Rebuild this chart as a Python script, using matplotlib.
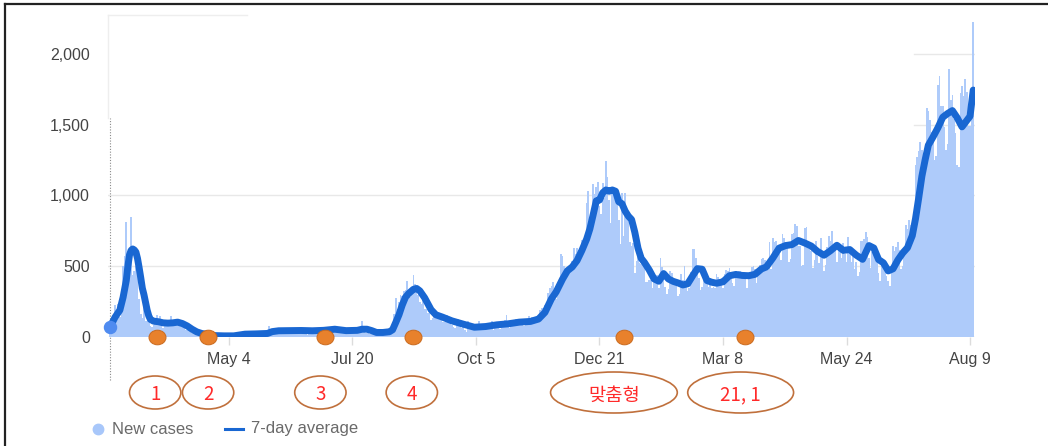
import pandas as pd
import matplotlib
matplotlib.use('Agg')
import matplotlib.pyplot as plt
import matplotlib.dates as mdates
import matplotlib.transforms as mtransforms
from matplotlib.patches import Ellipse
from matplotlib.path import Path
from matplotlib.lines import Line2D
from matplotlib.ticker import FuncFormatter

plt.rcParams['font.family'] = ['Liberation Sans', 'Noto Sans CJK KR']

# daily new cases, one list per month (first value is 2020-02-20)
cases_2020_02 = [20, 53, 100, 229, 169, 231, 144, 284, 505, 571]
cases_2020_03 = [813, 586, 599, 851, 435, 467, 505, 448, 272, 165, 131, 242, 114, 110, 107, 76,
                 74, 84, 93, 152, 87, 147, 98, 64, 76, 100, 104, 91, 146, 105, 78]
cases_2020_04 = [125, 101, 89, 86, 94, 81, 47, 47, 53, 39, 27, 30, 32, 25, 27, 27, 22, 22, 18, 8,
                 13, 9, 11, 8, 6, 10, 10, 10, 14, 9]
cases_2020_05 = [4, 9, 6, 13, 8, 3, 2, 4, 12, 18, 34, 35, 27, 26, 29, 27, 19, 13, 15, 13, 32, 12,
                 20, 23, 25, 16, 19, 40, 79, 58, 39]
cases_2020_06 = [27, 35, 38, 49, 39, 39, 51, 57, 38, 38, 50, 45, 56, 49, 37, 34, 43, 59, 49, 67,
                 48, 17, 46, 51, 28, 39, 51, 62, 42, 42]
cases_2020_07 = [43, 51, 54, 63, 63, 61, 48, 44, 63, 50, 45, 35, 44, 62, 33, 39, 61, 60, 39, 34,
                 26, 45, 63, 59, 41, 113, 58, 25, 28, 48, 18]
cases_2020_08 = [36, 31, 30, 23, 33, 43, 20, 43, 36, 28, 34, 54, 56, 103, 166, 279, 197, 246, 297,
                 288, 324, 332, 397, 266, 280, 320, 441, 371, 323, 299, 248]
cases_2020_09 = [235, 267, 195, 198, 168, 167, 119, 136, 156, 155, 176, 136, 121, 109, 106, 113,
                 153, 126, 110, 82, 70, 61, 110, 125, 114, 61, 95, 50, 38, 113]
cases_2020_10 = [77, 63, 75, 64, 73, 75, 114, 69, 54, 72, 58, 97, 102, 84, 110, 47, 73, 91, 76, 58,
                 76, 91, 121, 155, 77, 61, 119, 88, 103, 125, 114]
cases_2020_11 = [127, 124, 97, 75, 118, 125, 145, 89, 143, 126, 100, 146, 143, 191, 205, 208, 223,
                 230, 313, 343, 363, 386, 330, 271, 349, 382, 583, 569, 504, 450]
cases_2020_12 = [438, 451, 511, 540, 629, 583, 631, 615, 594, 686, 682, 689, 950, 1030, 718, 880,
                 1078, 1014, 1062, 1097, 926, 869, 1090, 985, 1241, 1132, 970, 807, 1045, 1050, 967]
cases_2021_01 = [1029, 824, 657, 1020, 715, 1020, 870, 869, 674, 641, 665, 451, 537, 562, 524, 513,
                 580, 520, 389, 386, 404, 401, 346, 431, 392, 437, 349, 559, 497, 469, 355]
cases_2021_02 = [305, 336, 467, 451, 370, 393, 372, 288, 303, 444, 403, 504, 362, 326, 344, 457,
                 621, 621, 561, 448, 416, 332, 356, 440, 396, 406, 355, 415]
cases_2021_03 = [344, 355, 344, 444, 424, 398, 416, 346, 446, 470, 465, 488, 459, 382, 363, 469,
                 445, 463, 468, 452, 456, 415, 346, 428, 430, 494, 505, 482, 382, 447, 506]
cases_2021_04 = [551, 557, 543, 477, 473, 668, 478, 700, 671, 677, 614, 587, 542, 731, 698, 673,
                 658, 532, 549, 731, 735, 797, 785, 644, 644, 500, 512, 769, 775, 680]
cases_2021_05 = [661, 606, 488, 541, 676, 574, 525, 701, 564, 463, 511, 635, 715, 681, 747, 610,
                 619, 528, 654, 646, 561, 666, 585, 530, 707, 629, 533, 587, 479, 533, 430]
cases_2021_06 = [459, 677, 681, 695, 744, 708, 556, 485, 602, 611, 556, 565, 452, 399, 545, 540,
                 507, 429, 395, 357, 501, 645, 610, 634, 668, 614, 482, 501, 595, 794]
cases_2021_07 = [762, 826, 794, 743, 711, 1212, 1275, 1316, 1378, 1324, 1100, 1150, 1615, 1600,
                 1536, 1452, 1454, 1252, 1278, 1784, 1842, 1630, 1629, 1487, 1318, 1363, 1896,
                 1674, 1710, 1539, 1442]
cases_2021_08 = [1218, 1202, 1725, 1776, 1704, 1823, 1729, 1492, 1490, 1537, 2223]

new_cases = (cases_2020_02 + cases_2020_03 + cases_2020_04 + cases_2020_05 + cases_2020_06
             + cases_2020_07 + cases_2020_08 + cases_2020_09 + cases_2020_10 + cases_2020_11
             + cases_2020_12 + cases_2021_01 + cases_2021_02 + cases_2021_03 + cases_2021_04
             + cases_2021_05 + cases_2021_06 + cases_2021_07 + cases_2021_08)
case_dates = pd.date_range('2020-02-20', periods=len(new_cases), freq='D')

# 7-day average
avg_dates = ['2020-02-20', '2020-02-23', '2020-02-26', '2020-02-28', '2020-03-01', '2020-03-02',
             '2020-03-03', '2020-03-04', '2020-03-05', '2020-03-06', '2020-03-07', '2020-03-08',
             '2020-03-09', '2020-03-10', '2020-03-11', '2020-03-12', '2020-03-13', '2020-03-14',
             '2020-03-15', '2020-03-16', '2020-03-18', '2020-03-21', '2020-03-24', '2020-03-27',
             '2020-03-30', '2020-04-02', '2020-04-05', '2020-04-08', '2020-04-11', '2020-04-14',
             '2020-04-17', '2020-04-21', '2020-04-25', '2020-05-01', '2020-05-07', '2020-05-14',
             '2020-05-21', '2020-05-28', '2020-05-31', '2020-06-04', '2020-06-11', '2020-06-18',
             '2020-06-25', '2020-07-02', '2020-07-09', '2020-07-16', '2020-07-23', '2020-07-26',
             '2020-07-29', '2020-08-01', '2020-08-04', '2020-08-08', '2020-08-12', '2020-08-14',
             '2020-08-16', '2020-08-18', '2020-08-20', '2020-08-22', '2020-08-24', '2020-08-27',
             '2020-08-29', '2020-08-31', '2020-09-03', '2020-09-07', '2020-09-10', '2020-09-14',
             '2020-09-20', '2020-09-27', '2020-10-04', '2020-10-11', '2020-10-18', '2020-10-25',
             '2020-11-01', '2020-11-08', '2020-11-13', '2020-11-17', '2020-11-21', '2020-11-24',
             '2020-11-28', '2020-12-01', '2020-12-04', '2020-12-07', '2020-12-10', '2020-12-13',
             '2020-12-15', '2020-12-17', '2020-12-19', '2020-12-21', '2020-12-23', '2020-12-25',
             '2020-12-27', '2020-12-29', '2020-12-31', '2021-01-02', '2021-01-04', '2021-01-06',
             '2021-01-08', '2021-01-10', '2021-01-12', '2021-01-14', '2021-01-16', '2021-01-18',
             '2021-01-21', '2021-01-24', '2021-01-27', '2021-01-30', '2021-02-02', '2021-02-05',
             '2021-02-08', '2021-02-11', '2021-02-14', '2021-02-17', '2021-02-20', '2021-02-23',
             '2021-02-26', '2021-03-01', '2021-03-04', '2021-03-08', '2021-03-12', '2021-03-16',
             '2021-03-20', '2021-03-24', '2021-03-28', '2021-04-01', '2021-04-04', '2021-04-08',
             '2021-04-12', '2021-04-16', '2021-04-20', '2021-04-24', '2021-04-28', '2021-05-02',
             '2021-05-06', '2021-05-10', '2021-05-14', '2021-05-18', '2021-05-22', '2021-05-26',
             '2021-05-30', '2021-06-03', '2021-06-07', '2021-06-10', '2021-06-13', '2021-06-16',
             '2021-06-19', '2021-06-22', '2021-06-25', '2021-06-28', '2021-07-01', '2021-07-04',
             '2021-07-06', '2021-07-08', '2021-07-10', '2021-07-12', '2021-07-14', '2021-07-17',
             '2021-07-20', '2021-07-23', '2021-07-26', '2021-07-29', '2021-08-01', '2021-08-04',
             '2021-08-07', '2021-08-09', '2021-08-11']
avg_values = [73, 140, 190, 280, 400, 500,
              580, 612, 622, 615, 600, 555,
              490, 420, 345, 300, 245, 190,
              150, 125, 112, 108, 100, 98,
              100, 105, 95, 78, 55, 36,
              25, 17, 10, 8, 8, 20,
              22, 25, 38, 44, 45, 46,
              44, 47, 55, 45, 47, 55,
              55, 45, 32, 32, 37, 51,
              103, 157, 225, 280, 307, 337,
              343, 326, 277, 193, 157, 141,
              114, 91, 69, 74, 86, 93,
              105, 110, 127, 174, 269, 319,
              410, 468, 495, 540, 611, 692,
              764, 861, 962, 968, 1019, 1039,
              1030, 1039, 1030, 956, 942, 890,
              854, 830, 741, 628, 556, 527,
              474, 411, 394, 448, 410, 393,
              382, 368, 376, 431, 483, 479,
              399, 387, 380, 390, 433, 442,
              435, 433, 443, 481, 495, 557,
              628, 646, 653, 682, 664, 643,
              604, 578, 610, 648, 612, 618,
              579, 549, 646, 629, 547, 524,
              467, 482, 544, 593, 631, 716,
              835, 982, 1137, 1251, 1355, 1415,
              1479, 1553, 1579, 1600, 1549, 1485,
              1530, 1560, 1745]

y_ticks = [0, 500, 1000, 1500, 2000]
tick_dates = ['2020-05-04', '2020-07-20', '2020-10-05', '2020-12-21', '2021-03-08', '2021-05-24', '2021-08-09']
tick_labels = ['May 4', 'Jul 20', 'Oct 5', 'Dec 21', 'Mar 8', 'May 24', 'Aug 9']

event_dates = ['2020-03-20', '2020-04-21', '2020-07-03', '2020-08-27', '2021-01-05', '2021-03-22']
label_dates = ['2020-03-19', '2020-04-21', '2020-06-30', '2020-08-26', '2020-12-30', '2021-03-19']
label_texts = ['1', '2', '3', '4', '맞춤형', '21, 1']

bar_color = '#aecbfa'
line_color = '#1967d2'
grid_color = '#e8e8e8'

W, H = 1048, 446
fig = plt.figure(figsize=(W / 100, H / 100), dpi=100, facecolor='white')
ax = fig.add_axes([108 / W, 109 / H, 867 / W, 318.4 / H])

x0 = mdates.date2num(pd.Timestamp('2020-05-04'))
ax.set_xlim(x0 - 75.4, x0 + 465.1)
ax.set_ylim(0, 2250)

# grid (upper two lines only peek out on the right in the original)
for v in y_ticks[:3]:
    ax.axhline(v, color=grid_color, lw=1, zorder=0)
for v in y_ticks[3:]:
    ax.axhline(v, xmin=0.93, color=grid_color, lw=1, zorder=0)

ax.bar(mdates.date2num(case_dates), new_cases, width=1.05, color=bar_color,
       linewidth=0, zorder=2)
avg_x = mdates.date2num(pd.to_datetime(avg_dates))
ax.plot(avg_x, avg_values, color=line_color, lw=5.0, solid_joinstyle='round',
        solid_capstyle='round', zorder=4)

# hover marker + guide line at first point
ax.axvline(avg_x[0], ymin=-43 / 318.4, ymax=219 / 318.4, color='#8a8a8a', lw=0.8,
           ls=(0, (1, 1.5)), clip_on=False, zorder=1)
ax.scatter([avg_x[0]], [avg_values[0]], s=75, color='#4f8bf0', zorder=7, clip_on=False)

# event markers on the baseline
oval = Path.unit_circle().transformed(mtransforms.Affine2D().scale(1.0, 0.86))
ax.scatter(mdates.date2num(pd.to_datetime(event_dates)), [0] * len(event_dates), s=150,
           marker=oval, color='#e8812c', edgecolors='#c96a1f', linewidths=0.7,
           zorder=6, clip_on=False)

# circled labels below the axis
trans = mtransforms.blended_transform_factory(ax.transData, fig.transFigure)
oval_w = [32, 32, 32, 32, 79, 66]
oval_h = [33, 33, 33, 33, 41, 41]
for d, txt, w, h in zip(label_dates, label_texts, oval_w, oval_h):
    xd = mdates.date2num(pd.Timestamp(d))
    fig.add_artist(Ellipse((xd, 53.5 / H), w, h / H, transform=trans, fill=False,
                           edgecolor='#c0703c', lw=1.2))
    ax.text(xd, 53.5 / H, txt, transform=trans, ha='center', va='center_baseline',
            color='#ff2a2a', fontsize=13.5, family=['Noto Sans CJK KR', 'DejaVu Sans'])

ax.set_yticks(y_ticks)
ax.yaxis.set_major_formatter(FuncFormatter(lambda v, p: f'{v:,.0f}'))
ax.set_xticks(mdates.date2num(pd.to_datetime(tick_dates)))
ax.set_xticklabels(tick_labels)
ax.tick_params(axis='y', length=0, pad=13, labelsize=11.5, labelcolor='#444444')
ax.tick_params(axis='x', length=6, width=1, color='#dcdcdc', pad=5, labelsize=11.5,
               labelcolor='#444444')
for s in ax.spines.values():
    s.set_visible(False)

# legend
fig.add_artist(Line2D([98 / W], [17 / H], marker='o', markersize=7.5, color='#a8c7fa',
                      lw=0, transform=fig.transFigure))
fig.text(112 / W, 17 / H, 'New cases', fontsize=12, color='#6a6a6a', va='center')
fig.add_artist(Line2D([225 / W, 243 / W], [17 / H, 17 / H], color=line_color, lw=2.2,
                      transform=fig.transFigure))
fig.text(251 / W, 17 / H, '7-day average', fontsize=12, color='#6a6a6a', va='center')

# faint tooltip outline and screenshot border
fig.add_artist(Line2D([108 / W, 247 / W], [1 - 15 / H] * 2, color='#eeeeee', lw=1,
                      transform=fig.transFigure))
fig.add_artist(Line2D([108 / W] * 2, [1 - 15 / H, 1 - 118 / H], color='#eeeeee', lw=1,
                      transform=fig.transFigure))
fig.add_artist(Line2D([5 / W, 1], [1 - 3.5 / H] * 2, color='#222222', lw=1.6,
                      transform=fig.transFigure))
fig.add_artist(Line2D([5 / W] * 2, [0, 1 - 3.5 / H], color='#222222', lw=1.6,
                      transform=fig.transFigure))

fig.savefig('out.png', dpi=100, facecolor='white')
